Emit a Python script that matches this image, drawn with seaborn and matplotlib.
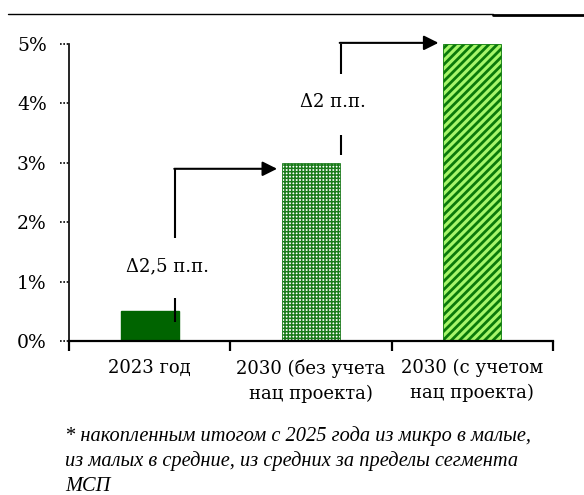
import numpy as np
import pandas as pd
import seaborn as sns
import matplotlib.pyplot as plt
from matplotlib.lines import Line2D
from matplotlib.ticker import FuncFormatter
import matplotlib.transforms as mtransforms

# Data
categories = ["2023 год", "2030 (без учета\nнац проекта)", "2030 (с учетом\nнац проекта)"]
values = [0.5, 3.0, 5.0]
deltas = ["Δ2,5 п.п.", "Δ2 п.п."]
footnote = ("* накопленным итогом с 2025 года из микро в малые,\n"
            "из малых в средние, из средних за пределы сегмента\n"
            "МСП")

sns.set_style("white")
plt.rcParams['font.family'] = ['DejaVu Serif']
plt.rcParams['hatch.linewidth'] = 1.6
plt.rcParams['text.color'] = 'black'
plt.rcParams['xtick.color'] = 'black'
plt.rcParams['ytick.color'] = 'black'

df = pd.DataFrame({"cat": categories, "val": values})

fig = plt.figure(figsize=(5.84, 4.95), dpi=100)
ax = fig.add_axes([0.118, 0.311, 0.829, 0.6])

sns.barplot(data=df, x="cat", y="val", color="#006400", width=0.36,
            saturation=1, ax=ax)

bars = ax.patches
bars[0].set_facecolor("#006400")
bars[0].set_edgecolor("#006400")
bars[1].set_facecolor("white")
bars[1].set_edgecolor("#1a7a1a")
bars[1].set_hatch("+++++")
bars[2].set_facecolor("#a6f56a")
bars[2].set_edgecolor("#0a7a0a")
bars[2].set_hatch("////")
for b in bars[1:]:
    b.set_linewidth(0.6)
if hasattr(bars[2], "set_hatch_linewidth"):
    bars[1].set_hatch_linewidth(1.1)
    bars[2].set_hatch_linewidth(2.0)

ax.set_xlim(-0.5, 2.5)
ax.set_ylim(0, 5)
ax.set_xlabel("")
ax.set_ylabel("")

for s in ["top", "right"]:
    ax.spines[s].set_visible(False)
ax.spines["left"].set_linestyle((0, (1, 1)))
ax.spines["left"].set_linewidth(1.2)
ax.spines["left"].set_color("black")
ax.spines["bottom"].set_linewidth(1.6)
ax.spines["bottom"].set_color("black")

ax.set_yticks(range(6))
ax.yaxis.set_major_formatter(FuncFormatter(lambda v, p: f"{v:.0f}%"))
ax.tick_params(axis="y", length=0, pad=16, labelsize=13.5, labelcolor="black")
# dotted y ticks
trans_y = mtransforms.blended_transform_factory(ax.transAxes, ax.transData)
for v in range(6):
    ax.plot([-0.018, 0], [v, v], transform=trans_y, color="black",
            lw=1.2, ls=(0, (1, 1)), clip_on=False)

ax.set_xticks(range(len(categories)))
ax.set_xticklabels(categories, fontsize=13, linespacing=1.45, va="top")
ax.set_xticks(np.arange(-0.5, len(categories), 1), minor=True)
ax.tick_params(axis="x", which="major", length=0, pad=13, labelcolor="black")
ax.tick_params(axis="x", which="minor", length=7, width=1.6, direction="out",
               color="black", bottom=True)

# step arrows
arrow_x = [0.158, 1.183]
low_seg = [(0.32, 0.72), (3.13, 3.47)]
up_seg = [1.73, 4.50]
top_y = [values[1] - 0.1, values[2] + 0.02]
label_y = [1.25, 4.02]
tip_x = [0.79, 1.79]
for i in range(2):
    x = arrow_x[i]
    ax.plot([x, x], low_seg[i], color="black", lw=1.5, solid_capstyle="butt")
    ax.plot([x, x], [up_seg[i], top_y[i]], color="black", lw=1.5,
            solid_capstyle="butt")
    ax.annotate("", xy=(tip_x[i], top_y[i]), xytext=(x - 0.005, top_y[i]),
                arrowprops=dict(arrowstyle="-|>", color="black", lw=1.5,
                                mutation_scale=22, shrinkA=0, shrinkB=0),
                annotation_clip=False)
    ax.text(x - 0.05, label_y[i], deltas[i], ha="center", va="center",
            fontsize=13, color="black")

# decorative top rule
fig.add_artist(Line2D([8 / 584, 493 / 584], [1 - 14 / 495, 1 - 14 / 495],
                      color="black", lw=1))
fig.add_artist(Line2D([493 / 584, 1], [1 - 14.5 / 495, 1 - 14.5 / 495],
                      color="black", lw=2))

fig.text(65 / 584, 1 - 426 / 495, footnote, ha="left", va="top",
         fontsize=14.7, style="italic", family=["Liberation Serif"],
         linespacing=1.37, color="black")

fig.savefig("out.png", dpi=100)
